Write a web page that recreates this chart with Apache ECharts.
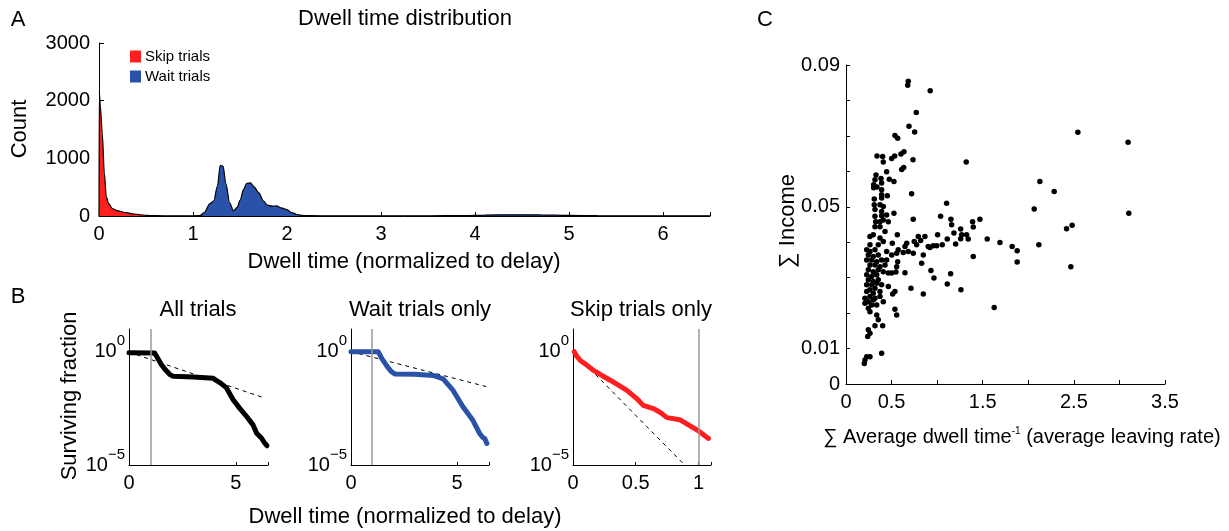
<!DOCTYPE html>
<html><head><meta charset="utf-8">
<script src="https://cdn.jsdelivr.net/npm/echarts@6/dist/echarts.min.js"></script>
<style>html,body{margin:0;padding:0;background:#fff}#c{width:1229px;height:531px}</style>
</head><body><div id="c"></div>
<script>
// ---------- Panel A: dwell time histogram ----------
const skipDwell = [0,0.003,0.015,0.035,0.057,0.078,0.103,0.14,0.2,0.29,0.37,0.44,0.5,0.6,0.8,1.0,1.1];
const skipCount = [0,2150,1900,1430,740,330,215,130,90,58,35,22,12,6,3,2,0];
const waitDwell = [1.0,1.07,1.12,1.18,1.22,1.26,1.29,1.32,1.35,1.39,1.43,1.47,1.5,1.54,1.57,1.61,1.65,1.7,1.75,1.79,1.84,1.89,1.94,2.0,2.05,2.1,2.15,2.25,2.5,3.0,3.5,3.9,4.1,4.4,4.7,5.0,5.3,5.7,6.2,6.5];
const waitCount = [0,5,60,215,260,520,880,860,560,230,90,150,273,470,564,576,505,400,260,190,172,174,140,110,60,30,12,5,3,3,4,8,16,20,18,10,5,4,3,2];

// ---------- Panel B: surviving fraction (log10) ----------
const allDwell = [0,1.2,1.35,1.5,1.7,1.9,2.07,3.0,3.94,4.1,4.3,4.56,4.87,5.17,5.5,5.8,5.97,6.2,6.35,6.45];
const allLogSurv = [-0.05,-0.06,-0.3,-0.55,-0.8,-1.0,-1.09,-1.12,-1.17,-1.28,-1.4,-1.6,-2.12,-2.49,-2.86,-3.23,-3.6,-3.82,-4.04,-4.15];
const allFitDwell = [0,6.2];
const allFitLog = [-0.02,-2.0];

const waitOnlyDwell = [0,1.28,1.45,1.7,1.9,2.06,3.0,3.87,4.34,4.81,5.28,5.74,6.06,6.2,6.3,6.4];
const waitOnlyLogSurv = [0,0,-0.3,-0.65,-0.88,-0.98,-1.0,-1.05,-1.2,-1.71,-2.44,-3.03,-3.61,-3.78,-3.83,-4.05];
const waitFitDwell = [0,6.37];
const waitFitLog = [0,-1.54];

const skipOnlyDwell = [0.01,0.03,0.058,0.1,0.164,0.23,0.3,0.43,0.51,0.56,0.64,0.69,0.75,0.85,0.91,0.99,1.08];
const skipOnlyLogSurv = [0,-0.2,-0.39,-0.55,-0.83,-1.05,-1.27,-1.71,-2.08,-2.37,-2.51,-2.66,-2.91,-3.0,-3.2,-3.46,-3.83];
const skipFitDwell = [0,0.89];
const skipFitLog = [0,-5];

const delayMark = 1;

// ---------- Panel C: income vs leaving rate ----------
const leavingRate = [0.683,0.677,0.924,0.771,0.691,0.753,0.537,0.567,0.340,0.402,0.501,0.534,0.603,0.636,0.409,0.735,0.611,0.633,0.446,0.329,
0.318,0.475,0.526,0.384,0.304,0.391,0.304,0.340,0.391,0.720,0.391,0.453,0.310,0.391,0.310,0.373,0.409,0.318,0.391,0.526,
0.318,0.391,0.446,0.738,1.038,0.326,0.464,0.409,0.373,0.318,0.373,0.428,0.563,0.263,0.299,0.373,0.793,0.866,1.005,0.409,
0.508,0.666,0.749,0.819,0.263,0.354,0.902,0.957,0.995,1.056,0.647,0.775,0.227,0.263,0.318,0.573,0.446,0.556,0.628,0.683,
0.738,0.848,0.501,0.245,0.299,0.354,0.227,0.282,0.337,0.391,0.446,0.567,0.263,0.318,0.373,0.428,0.556,0.830,0.245,0.299,
0.354,0.409,0.464,0.501,0.548,0.647,0.932,0.227,0.282,0.337,0.965,0.245,0.299,0.354,0.227,0.282,0.337,0.391,0.464,0.263,
0.318,0.713,0.537,0.512,0.227,0.299,0.373,0.848,0.208,0.263,0.318,0.373,0.245,0.299,0.409,0.208,0.282,0.337,0.245,0.263,
0.537,0.556,0.337,0.354,0.318,0.402,0.245,0.263,0.238,0.391,0.227,0.263,0.208,0.201,1.104,1.151,1.159,1.389,1.396,1.469,
1.258,1.184,1.269,1.323,1.341,1.549,1.689,1.203,1.111,0.921,1.396,1.148,1.111,1.261,1.626,1.319,2.127,2.284,2.065,3.103,
2.481,2.420,1.823,1.878,2.116,1.878,2.467,2.544,3.095,1.258];
const income = [0.0854,0.0843,0.0827,0.0766,0.0727,0.0711,0.0701,0.0693,0.0643,0.0642,0.0636,0.0643,0.0649,0.0655,0.0626,0.0633,0.0605,0.0611,0.0599,0.0590,
0.0576,0.0578,0.0571,0.0580,0.0562,0.0567,0.0554,0.0556,0.0548,0.0537,0.0534,0.0531,0.0522,0.0525,0.0506,0.0506,0.0501,0.0492,0.0487,0.0482,
0.0473,0.0475,0.0477,0.0465,0.0473,0.0458,0.0458,0.0463,0.0458,0.0444,0.0444,0.0430,0.0421,0.0416,0.0421,0.0412,0.0416,0.0416,0.0421,0.0402,
0.0397,0.0397,0.0402,0.0405,0.0393,0.0393,0.0388,0.0390,0.0390,0.0393,0.0388,0.0393,0.0379,0.0374,0.0379,0.0379,0.0374,0.0369,0.0371,0.0374,
0.0369,0.0364,0.0364,0.0364,0.0360,0.0364,0.0350,0.0350,0.0345,0.0350,0.0350,0.0345,0.0336,0.0336,0.0331,0.0336,0.0331,0.0341,0.0322,0.0317,
0.0322,0.0317,0.0313,0.0313,0.0316,0.0314,0.0320,0.0308,0.0303,0.0308,0.0299,0.0294,0.0289,0.0294,0.0280,0.0280,0.0284,0.0280,0.0275,0.0266,
0.0270,0.0270,0.0261,0.0254,0.0261,0.0256,0.0261,0.0254,0.0242,0.0247,0.0242,0.0247,0.0232,0.0237,0.0232,0.0228,0.0223,0.0223,0.0214,0.0204,
0.0211,0.0195,0.0195,0.0181,0.0164,0.0164,0.0153,0.0143,0.0134,0.0087,0.0077,0.0077,0.0068,0.0058,0.0510,0.0465,0.0449,0.0458,0.0443,0.0465,
0.0437,0.0426,0.0421,0.0421,0.0409,0.0409,0.0399,0.0395,0.0409,0.0385,0.0360,0.0311,0.0282,0.0266,0.0216,0.0626,0.0571,0.0543,0.0494,0.0482,
0.0448,0.0438,0.0388,0.0376,0.0393,0.0344,0.0331,0.0710,0.0682,0.0410];

const zip = (a, b) => a.map((v, i) => [v, b[i]]);

const FONT = '"Liberation Sans", Arial, Helvetica, sans-serif';
const RED = '#ff1f1f', BLUE = '#2a52a8';

function axisBase(extra) {
  extra = extra || {};
  const base = {
    type: 'value',
    axisLine: { show: true, onZero: false, lineStyle: { color: '#000', width: 1 } },
    axisTick: { show: true, inside: true, length: 4, lineStyle: { color: '#000', width: 1 } },
    splitLine: { show: false },
    axisLabel: { color: '#000', fontSize: 20, fontFamily: FONT, margin: 8 }
  };
  const out = Object.assign({}, base, extra);
  out.axisTick = Object.assign({}, base.axisTick, extra.axisTick || {});
  out.axisLabel = Object.assign({}, base.axisLabel, extra.axisLabel || {});
  return out;
}
const near = (v, list) => list.some(t => Math.abs(v - t) < 1e-9);
const logFmt = v => near(v, [0]) ? '{b|10}{s|0}' : near(v, [-5]) ? '{b|10}{s|\u22125}' : '';
const logRich = {
  b: { fontSize: 20, fontFamily: FONT, color: '#000', lineHeight: 36 },
  s: { fontSize: 15, fontFamily: FONT, color: '#000', lineHeight: 15, verticalAlign: 'top' }
};
function bY(gi) {
  return axisBase({ gridIndex: gi, min: -5, max: 1, interval: 5,
    axisTick: { show: false },
    axisLabel: { formatter: logFmt, rich: logRich, margin: 4 } });
}

const gridCommon = { containLabel: false, outerBoundsMode: 'none', show: false };
const T = (x, y, text, size, rot) => ({ type: 'text', x: x, y: y, rotation: rot || 0,
  style: { text: text, font: size + 'px ' + FONT, fill: '#000', textAlign: 'center', textVerticalAlign: 'middle' } });

const option = {
  animation: false,
  backgroundColor: '#fff',
  textStyle: { fontFamily: FONT },
  grid: [
    Object.assign({ left: 99, top: 43, width: 611, height: 173 }, gridCommon),
    Object.assign({ left: 129, top: 329, width: 139, height: 136 }, gridCommon),
    Object.assign({ left: 351, top: 329, width: 138, height: 136 }, gridCommon),
    Object.assign({ left: 573, top: 329, width: 138, height: 136 }, gridCommon),
    Object.assign({ left: 846, top: 65, width: 319, height: 319 }, gridCommon)
  ],
  xAxis: [
    axisBase({ gridIndex: 0, min: 0, max: 6.5, interval: 1,
      axisLabel: { formatter: v => near(v, [0,1,2,3,4,5,6]) ? String(Math.round(v)) : '' } }),
    axisBase({ gridIndex: 1, min: 0, max: 6.5, interval: 5, axisTick: { length: 3 },
      axisLabel: { formatter: v => near(v, [0,5]) ? String(Math.round(v)) : '' } }),
    axisBase({ gridIndex: 2, min: 0, max: 6.5, interval: 5, axisTick: { length: 3 },
      axisLabel: { formatter: v => near(v, [0,5]) ? String(Math.round(v)) : '' } }),
    axisBase({ gridIndex: 3, min: 0, max: 1.1, interval: 0.5, axisTick: { length: 3 },
      axisLabel: { formatter: v => near(v, [0]) ? '0' : near(v, [0.5]) ? '0.5' : near(v, [1]) ? '1' : '' } }),
    axisBase({ gridIndex: 4, min: 0, max: 3.5, interval: 0.5,
      axisLabel: { formatter: v => near(v, [0]) ? '0' : near(v, [0.5,1.5,2.5,3.5]) ? v.toFixed(1) : '' } })
  ],
  yAxis: [
    axisBase({ gridIndex: 0, min: 0, max: 3000, interval: 1000, axisTick: { length: 5 },
      axisLabel: { margin: 9, formatter: v => String(Math.round(v)) } }),
    bY(1), bY(2), bY(3),
    axisBase({ gridIndex: 4, min: 0, max: 0.09, interval: 0.01,
      axisLabel: { margin: 6, formatter: v => near(v, [0]) ? '0' : near(v, [0.01,0.05,0.09]) ? v.toFixed(2) : '' } })
  ],
  legend: {
    left: 130, top: 49, orient: 'vertical', padding: 0, itemGap: 5,
    itemWidth: 11, itemHeight: 12, icon: 'rect',
    itemStyle: { borderWidth: 0 },
    textStyle: { fontSize: 15, fontFamily: FONT, color: '#000', padding: [0,0,0,-1] },
    data: [
      { name: 'Skip trials', icon: 'rect', itemStyle: { color: RED, borderWidth: 0 } },
      { name: 'Wait trials', icon: 'rect', itemStyle: { color: BLUE, borderWidth: 0 } }
    ]
  },
  series: [
    { name: 'Skip trials', type: 'line', xAxisIndex: 0, yAxisIndex: 0, data: zip(skipDwell, skipCount),
      smooth: 0.3, smoothMonotone: 'x', showSymbol: false, symbol: 'none',
      itemStyle: { color: RED }, lineStyle: { color: '#000', width: 1.2 },
      areaStyle: { color: RED, opacity: 1 } },
    { name: 'Wait trials', type: 'line', xAxisIndex: 0, yAxisIndex: 0, data: zip(waitDwell, waitCount),
      smooth: 0.3, smoothMonotone: 'x', showSymbol: false, symbol: 'none',
      itemStyle: { color: BLUE }, lineStyle: { color: '#000', width: 1.2 },
      areaStyle: { color: BLUE, opacity: 1 } },

    // B1 all trials
    { type: 'line', xAxisIndex: 1, yAxisIndex: 1, data: zip(allFitDwell, allFitLog), symbol: 'none',
      lineStyle: { color: '#000', width: 1, type: [4, 4] },
      markLine: { silent: true, symbol: 'none', label: { show: false },
        lineStyle: { color: '#999', type: 'solid', width: 1.5 }, data: [{ xAxis: delayMark }] } },
    { type: 'line', xAxisIndex: 1, yAxisIndex: 1, data: zip(allDwell, allLogSurv), symbol: 'none',
      lineStyle: { color: '#000', width: 5, cap: 'round', join: 'round' } },
    // B2 wait only
    { type: 'line', xAxisIndex: 2, yAxisIndex: 2, data: zip(waitFitDwell, waitFitLog), symbol: 'none',
      lineStyle: { color: '#000', width: 1, type: [4, 4] },
      markLine: { silent: true, symbol: 'none', label: { show: false },
        lineStyle: { color: '#999', type: 'solid', width: 1.5 }, data: [{ xAxis: delayMark }] } },
    { type: 'line', xAxisIndex: 2, yAxisIndex: 2, data: zip(waitOnlyDwell, waitOnlyLogSurv), symbol: 'none',
      lineStyle: { color: BLUE, width: 5, cap: 'round', join: 'round' } },
    // B3 skip only
    { type: 'line', xAxisIndex: 3, yAxisIndex: 3, data: zip(skipFitDwell, skipFitLog), symbol: 'none',
      lineStyle: { color: '#000', width: 1, type: [4, 4] },
      markLine: { silent: true, symbol: 'none', label: { show: false },
        lineStyle: { color: '#999', type: 'solid', width: 1.5 }, data: [{ xAxis: delayMark }] } },
    { type: 'line', xAxisIndex: 3, yAxisIndex: 3, data: zip(skipOnlyDwell, skipOnlyLogSurv), symbol: 'none',
      lineStyle: { color: RED, width: 5, cap: 'round', join: 'round' } },

    // C scatter
    { type: 'scatter', xAxisIndex: 4, yAxisIndex: 4, data: zip(leavingRate, income),
      symbol: 'circle', symbolSize: 5.5, itemStyle: { color: '#000', opacity: 1 } }
  ],
  graphic: [
    T(18, 20, 'A', 22),
    T(405, 19, 'Dwell time distribution', 22),
    T(20, 129, 'Count', 22, Math.PI / 2),
    T(404, 262, 'Dwell time (normalized to delay)', 22),
    T(18, 297, 'B', 22),
    T(198, 310, 'All trials', 22),
    T(420, 310, 'Wait trials only', 22),
    T(641, 310, 'Skip trials only', 22),
    T(70, 396, 'Surviving fraction', 22, Math.PI / 2),
    T(405, 517, 'Dwell time (normalized to delay)', 22),
    T(765, 20, 'C', 22),
    T(788, 221, '\u2211 Income', 22, Math.PI / 2),
    { type: 'text', x: 1022, y: 437, style: {
        text: '{a|\u2211 Average dwell time}{s|-1}{a| (average leaving rate)}',
        rich: { a: { fontSize: 20, fontFamily: FONT, color: '#000', lineHeight: 22 },
                s: { fontSize: 10, fontFamily: FONT, color: '#000', lineHeight: 10, verticalAlign: 'top' } },
        textAlign: 'center', textVerticalAlign: 'middle' } }
  ]
};
const chart = echarts.init(document.getElementById('c'));
chart.setOption(option);
</script></body></html>
